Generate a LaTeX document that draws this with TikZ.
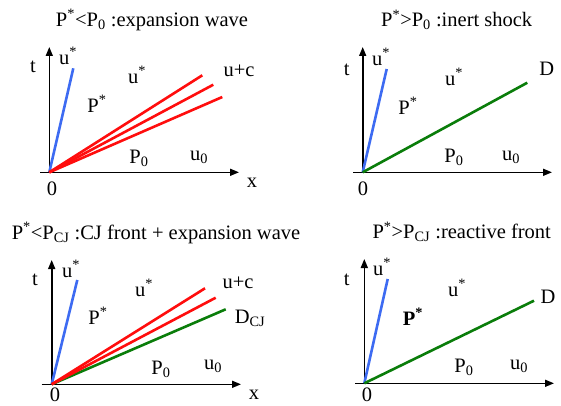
\documentclass[tikz,border=0pt]{standalone}
\usepackage{fontspec}
\setmainfont{Liberation Serif}
\usepackage{tikz}
\usetikzlibrary{arrows.meta}
\definecolor{WaveBlue}{HTML}{3D6BF2}
\definecolor{WaveRed}{HTML}{FF0D0D}
\definecolor{FrontGreen}{HTML}{0A7D0A}
\tikzset{
  % Axis with filled head
  axis/.style={
    -{Triangle[length=9pt,width=7pt]},
    line width=1.6pt, color=black
  },
  % Characteristic lines
  ray/.style={line width=2.6pt, color=#1},
  % Labels
  lbl/.style={font=\fontsize{20.5}{24}\selectfont, inner sep=0pt},
  ttl/.style={font=\fontsize{20.5}{24}\selectfont, inner sep=0pt}
}
\newcommand{\Ps}{P\textsuperscript{*}}
\newcommand{\us}{u\textsuperscript{*}}

\begin{document}
\begin{tikzpicture}[x=1pt,y=-1pt]
  \useasboundingbox (0,0) rectangle (561,406);

  % ---- top left: expansion wave
  \node[ttl] (ta) at (152,20) {\Ps<P\textsubscript{0} :expansion wave};
  \coordinate (oa) at (49.3,172.3);
  \coordinate (ya) at (49.3,47);
  \coordinate (xsa) at (40,172.3);
  \coordinate (xea) at (239,172.3);
  \draw[axis] (oa) -- (ya);
  \draw[axis] (xsa) -- (xea);
  \coordinate (ba) at (73.3,68.3);
  \coordinate (ra1) at (202.3,75.3);
  \coordinate (ra2) at (213.3,84.7);
  \coordinate (ra3) at (222.3,97);
  \draw[ray=WaveBlue] (oa) -- (ba);
  \foreach \r in {ra1,ra2,ra3}
    \draw[ray=WaveRed] (oa) -- (\r);
  \node[lbl] (tya) at (33,67) {t};
  \node[lbl] (ua1) at (68,56) {\us};
  \node[lbl] (ua2) at (137,75) {\us};
  \node[lbl] (pa1) at (97,104) {\Ps};
  \node[lbl] (uca) at (239,71) {u+c};
  \node[lbl] (pa0) at (139,158) {P\textsubscript{0}};
  \node[lbl] (ua0) at (199,157) {u\textsubscript{0}};
  \node[lbl] (za) at (52,189) {0};
  \node[lbl] (txa) at (252,183) {x};

  % ---- top right: inert shock
  \node[ttl] (tb) at (456.7,20) {\Ps>P\textsubscript{0} :inert shock};
  \coordinate (ob) at (362.7,172.3);
  \coordinate (yb) at (362.7,47);
  \coordinate (xsb) at (353,172.3);
  \coordinate (xeb) at (552,172.3);
  \draw[axis] (ob) -- (yb);
  \draw[axis] (xsb) -- (xeb);
  \coordinate (bb) at (386.7,69);
  \coordinate (gb) at (527.3,82.7);
  \draw[ray=WaveBlue] (ob) -- (bb);
  \draw[ray=FrontGreen] (ob) -- (gb);
  \node[lbl] (tyb) at (346.7,70) {t};
  \node[lbl] (ub1) at (381,57) {\us};
  \node[lbl] (ub2) at (454,77) {\us};
  \node[lbl] (pb1) at (408,106) {\Ps};
  \node[lbl] (db) at (546.7,69) {D};
  \node[lbl] (pb0) at (454,157) {P\textsubscript{0}};
  \node[lbl] (ub0) at (511,157) {u\textsubscript{0}};
  \node[lbl] (zb) at (363,189) {0};

  % ---- bottom left: CJ front + expansion wave
  \node[ttl] (tc) at (156,233) {\Ps<P\textsubscript{CJ} :CJ front + expansion wave};
  \coordinate (oc) at (51.7,384.3);
  \coordinate (yc) at (51.7,260);
  \coordinate (xsc) at (41.7,384.3);
  \coordinate (xec) at (241,384.3);
  \draw[axis] (oc) -- (yc);
  \draw[axis] (xsc) -- (xec);
  \coordinate (bc) at (77.3,280);
  \coordinate (rc1) at (205,288.3);
  \coordinate (rc2) at (215.7,297.7);
  \coordinate (gc) at (225.7,309.3);
  \draw[ray=WaveBlue] (oc) -- (bc);
  \draw[ray=FrontGreen] (oc) -- (gc);
  \foreach \r in {rc1,rc2}
    \draw[ray=WaveRed] (oc) -- (\r);
  \node[lbl] (tyc) at (35,280) {t};
  \node[lbl] (uc1) at (71,269) {\us};
  \node[lbl] (uc2) at (144,288) {\us};
  \node[lbl] (pc1) at (98,316) {\Ps};
  \node[lbl] (ucc) at (238,283) {u+c};
  \node[lbl] (dc) at (250,318) {D\textsubscript{CJ}};
  \node[lbl] (pc0) at (161,369) {P\textsubscript{0}};
  \node[lbl] (uc0) at (213,366) {u\textsubscript{0}};
  \node[lbl] (zc) at (55,395) {0};
  \node[lbl] (txc) at (254,395) {x};

  % ---- bottom right: reactive front
  \node[ttl] (td) at (461.7,232) {\Ps>P\textsubscript{CJ} :reactive front};
  \coordinate (od) at (364.3,383.3);
  \coordinate (yd) at (364.3,259);
  \coordinate (xsd) at (355,383.3);
  \coordinate (xed) at (554,383.3);
  \draw[axis] (od) -- (yd);
  \draw[axis] (xsd) -- (xed);
  \coordinate (bd) at (387.7,279);
  \coordinate (gd) at (534,300.7);
  \draw[ray=WaveBlue] (od) -- (bd);
  \draw[ray=FrontGreen] (od) -- (gd);
  \node[lbl] (tyd) at (346.7,280) {t};
  \node[lbl] (ud1) at (382,267) {\us};
  \node[lbl] (ud2) at (457,288) {\us};
  \node[lbl] (pd1) at (413,317) {\textbf{\Ps}};
  \node[lbl] (dd) at (548,297) {D};
  \node[lbl] (pd0) at (464,367) {P\textsubscript{0}};
  \node[lbl] (ud0) at (519,366) {u\textsubscript{0}};
  \node[lbl] (zd) at (367,395) {0};
\end{tikzpicture}
\end{document}
